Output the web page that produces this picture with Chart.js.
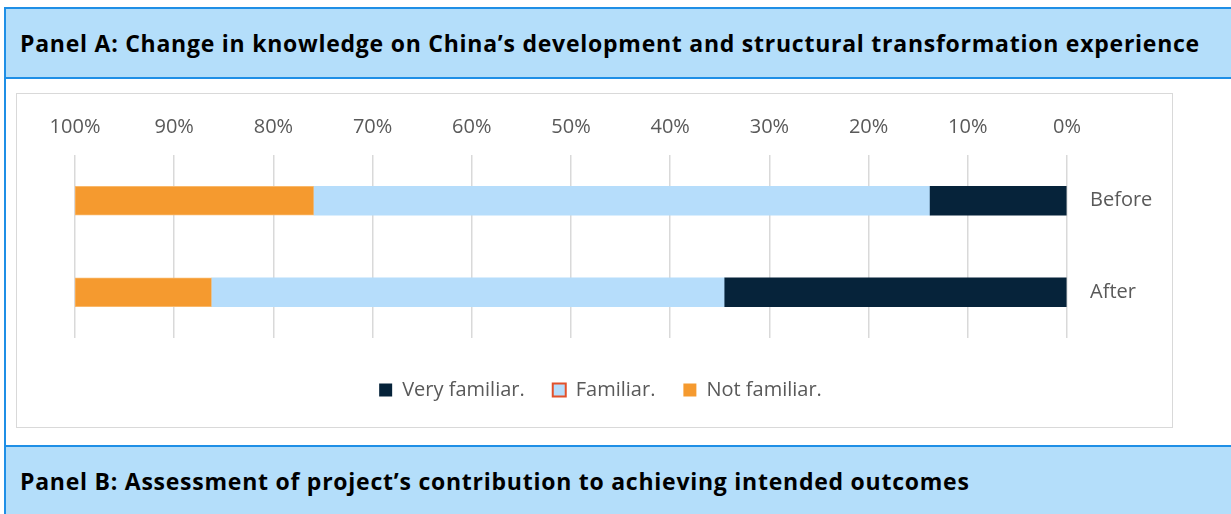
<!DOCTYPE html>
<html>
<head>
<meta charset="utf-8">
<script src="https://cdn.jsdelivr.net/npm/chart.js@4.4.0/dist/chart.umd.min.js"></script>
<style>
  body { margin: 0; width: 1231px; height: 514px; overflow: hidden; background: #fff; position: relative; font-family: "Open Sans", sans-serif; }
  .line { position: absolute; background: #1F8FE6; }
  .hdr { position: absolute; left: 6px; right: 0; background: #B4DEFA; }
  .hdr span { position: absolute; left: 14px; top: 50%; transform: translateY(-50%); font-weight: 700; font-size: 23px; letter-spacing: 0.75px; color: #000; white-space: nowrap; }
  #frame { position: absolute; left: 16px; top: 93px; width: 1155px; height: 333px; border: 1px solid #D9D9D9; }
</style>
</head>
<body>
<div class="line" style="left:4px;top:7px;width:2px;height:507px"></div>
<div class="line" style="left:4px;top:7px;right:0;height:2px"></div>
<div class="hdr" style="top:9px;height:68px"><span>Panel A: Change in knowledge on China’s development and structural transformation experience</span></div>
<div class="line" style="left:4px;top:77px;right:0;height:2px"></div>
<div id="frame"><canvas id="chart" width="1155" height="333"></canvas></div>
<div class="line" style="left:4px;top:445px;right:0;height:2px"></div>
<div class="hdr" style="top:447px;height:67px"><span>Panel B: Assessment of project’s contribution to achieving intended outcomes</span></div>

<script>
  const categories = ["Before", "After"];
  const veryFamiliar = [13.8, 34.5];
  const familiar = [62.1, 51.7];
  const notFamiliar = [24.1, 13.8];
  const tickValues = [0, 10, 20, 30, 40, 50, 60, 70, 80, 90, 100];

  const grey = "#595959";
  const font = { family: "Open Sans", size: 20 };

  const ctx = document.querySelector("#chart").getContext("2d");
  new Chart(ctx, {
    type: "bar",
    data: {
      labels: categories,
      datasets: [
        { label: "Very familiar.", data: veryFamiliar, backgroundColor: "#06233A", borderWidth: 0 },
        { label: "Familiar.", data: familiar, backgroundColor: "#B6DDFB", borderWidth: 0 },
        { label: "Not familiar.", data: notFamiliar, backgroundColor: "#F59A2F", borderColor: "#F9B86A", borderWidth: 1, borderSkipped: false },
      ],
    },
    options: {
      indexAxis: "y",
      responsive: false,
      animation: false,
      barThickness: 29,
      layout: { padding: { left: 12, right: 0, top: 19, bottom: 17 } },
      scales: {
        x: {
          type: "linear",
          position: "top",
          reverse: true,
          stacked: true,
          min: 0,
          max: 100,
          afterBuildTicks: (s) => { s.ticks = tickValues.map((v) => ({ value: v })); },
          afterFit: (s) => { s.height = 42; },
          ticks: { callback: (v) => v + "%", font, color: grey, padding: 16, maxRotation: 0 },
          grid: { color: "#D9D9D9", lineWidth: 1.5, drawTicks: false },
          border: { display: false },
        },
        y: {
          position: "right",
          stacked: true,
          afterFit: (s) => { s.width = 105; },
          ticks: { font, color: grey, padding: 23 },
          grid: { display: false, drawTicks: false },
          border: { display: false },
        },
        pad: {
          type: "category",
          position: "left",
          ticks: { display: false },
          grid: { display: false, drawTicks: false },
          border: { display: false },
          afterFit: (s) => { s.width = 46; },
        },
      },
      plugins: {
        tooltip: { enabled: false },
        legend: {
          position: "bottom",
          title: { display: true, text: "", font: { size: 1, lineHeight: 1 }, padding: { top: 13, bottom: 0 } },
          labels: {
            font,
            color: grey,
            boxWidth: 13,
            boxHeight: 13,
            padding: 28,
            generateLabels: (chart) => {
              const items = Chart.defaults.plugins.legend.labels.generateLabels(chart);
              items.forEach((it) => { it.lineWidth = 0; });
              items[1].strokeStyle = "#E2512B";
              items[1].lineWidth = 2;
              return items;
            },
          },
        },
      },
    },
  });
</script>
</body>
</html>
